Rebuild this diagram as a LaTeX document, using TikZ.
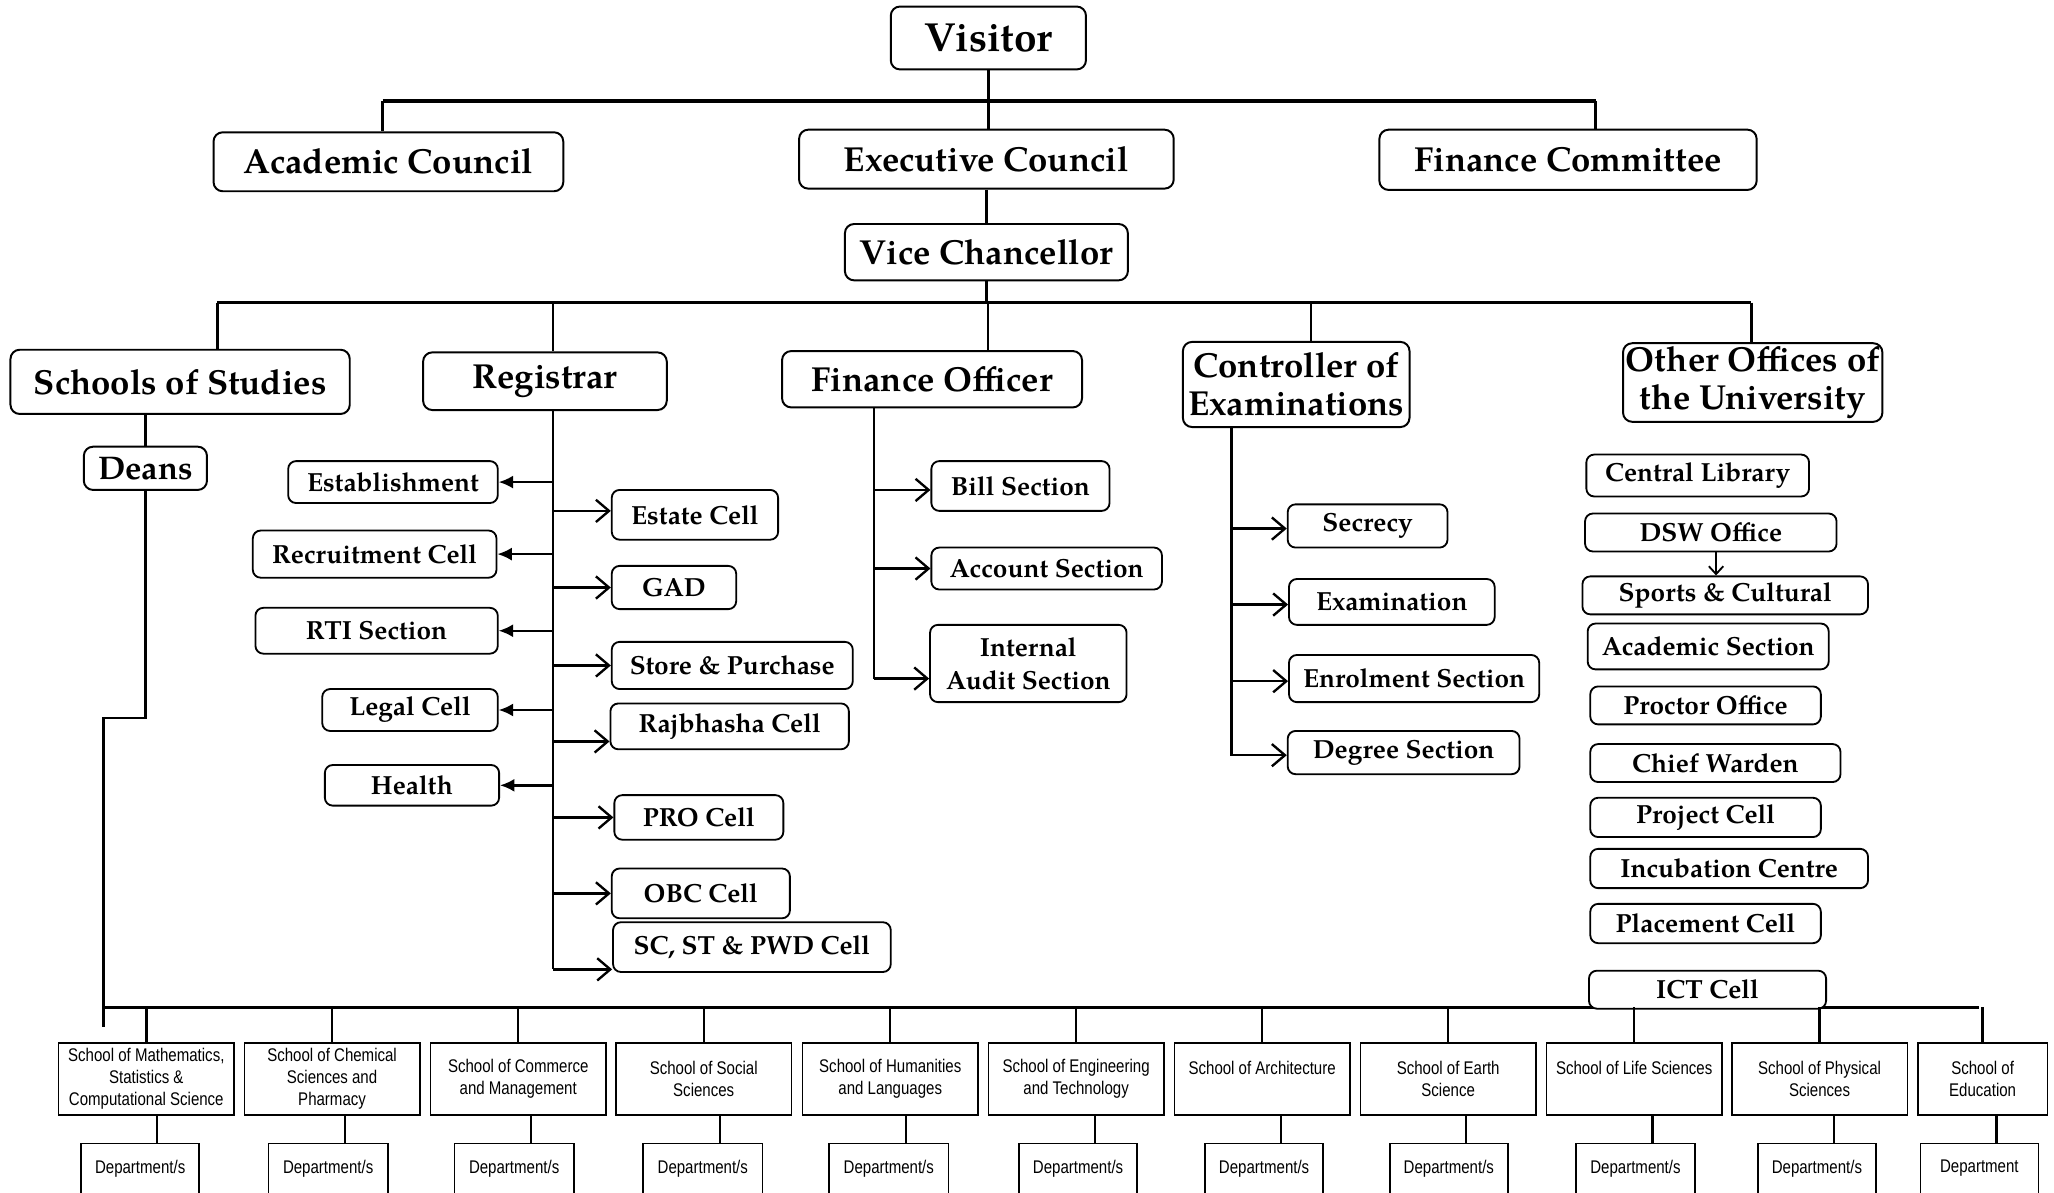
\documentclass[tikz,border=0pt]{standalone}
\usepackage{fontspec}
\newfontfamily\palb{texgyrepagella-bold}[Extension=.otf]
\newfontfamily\narrowsf{Liberation Sans}[FakeStretch=0.82]
\usetikzlibrary{arrows.meta}
\tikzset{
  sz/.style 2 args={minimum width=#1pt, minimum height=#2pt},
  boxA/.style={draw, line width=1.5pt, rounded corners=7pt, inner sep=0pt, align=center,
    font=\palb\fontsize{26.5}{29}\selectfont},
  boxB/.style={draw, line width=1.4pt, rounded corners=6pt, inner sep=0pt, align=center,
    font=\palb\fontsize{20}{25}\selectfont},
  sbox/.style={draw, line width=1.2pt, inner sep=0pt, align=center,
    font=\narrowsf\fontsize{14}{16.5}\selectfont},
  conn/.style={line width=1.8pt},
  bus/.style={line width=2.5pt},
  rarr/.style={line width=1.8pt, -{Straight Barb[length=10pt,width=17pt,line width=1.8pt]}},
  sarr/.style={line width=1.4pt, -{Straight Barb[length=6pt,width=11pt,line width=1.4pt]}},
  larr/.style={line width=1.8pt, -{Latex[length=11pt,width=10pt]}},
}
\begin{document}
\begin{tikzpicture}[x=1pt,y=-1pt]
\useasboundingbox (0,0) rectangle (1568,910);
\fill[white] (0,0) rectangle (1568,910);
\clip (0,0) rectangle (1568,910);

% ---------- top levels ----------
\node[boxA, sz={149}{48}, font=\palb\fontsize{31}{34}\selectfont] (visitor) at (754.5,29) {Visitor};
\node[boxA, sz={267}{45}] (acad) at (296.5,123.5) {Academic Council};
\node[boxA, sz={286}{45}] (exec) at (753,121.5) {Executive Council};
\node[boxA, sz={288}{46}] (fincom) at (1197,122) {Finance Committee};
\node[boxA, sz={216}{43}] (vc) at (753,192.5) {Vice Chancellor};
\node[boxA, sz={259}{49}] (schools) at (137.5,291.5) {Schools of Studies};
\node[boxA, sz={186}{44}] (reg) at (416,291) {Registrar};
\node[boxA, sz={229}{43}] (fo) at (711.5,289.5) {Finance Officer};
\node[boxA, sz={173}{65}] (coe) at (989.5,293.5) {Controller of\\Examinations};
\node[boxA, sz={198}{60}] (other) at (1338,292) {Other Offices of\\the University};
\node[boxA, sz={94}{33}, font=\palb\fontsize{25}{28}\selectfont] (deans) at (111,357.5) {Deans};

% ---------- top connectors ----------
\coordinate (busAL) at (292,77);
\coordinate (busAR) at (1218,77);
\draw[conn] (visitor.south) -- (visitor.south |- exec.north);
\draw[bus] (busAL) -- (busAR);
\draw[conn] (busAL) -- (busAL |- acad.north);
\draw[conn] (busAR) -- (busAR |- fincom.north);
\draw[conn] (exec.south) -- (exec.south |- vc.north);

\coordinate (dSch) at (166,231);
\coordinate (dReg) at (422,231);
\coordinate (dFO) at (754,231);
\coordinate (dCoE) at (1001,231);
\coordinate (dOth) at (1337,231);
\draw[conn] (vc.south) -- (vc.south |- dSch);
\draw[bus] (dSch) -- (dOth);
\draw[conn] (dSch) -- (dSch |- schools.north);
\draw[conn] (dReg) -- (dReg |- reg.north);
\draw[conn] (dFO) -- (dFO |- fo.north);
\draw[conn] (dCoE) -- (dCoE |- coe.north);
\draw[conn] (dOth) -- (dOth |- other.north);
\draw[conn] (deans.north) -- (deans.north |- schools.south);

% ---------- Registrar branch ----------
\node[boxB, sz={160}{32}] (estab) at (300,368) {Establishment};
\node[boxB, sz={186}{36}] (recruit) at (286,423) {Recruitment Cell};
\node[boxB, sz={185}{35}] (rti) at (287.5,481.5) {RTI Section};
\node[boxB, sz={134}{32}] (legal) at (313,542) {Legal Cell};
\node[boxB, sz={133}{31}] (health) at (314.5,599.5) {Health};

\node[boxB, sz={127}{38}] (estate) at (530.5,393) {Estate Cell};
\node[boxB, sz={95}{33}] (gad) at (514.5,448.5) {GAD};
\node[boxB, sz={184}{36}] (store) at (559,508) {Store \& Purchase};
\node[boxB, sz={182}{35}] (rajb) at (557,554.5) {Rajbhasha Cell};
\node[boxB, sz={129}{34}] (pro) at (533.5,624) {PRO Cell};
\node[boxB, sz={136}{38}] (obc) at (535,682) {OBC Cell};
\node[boxB, sz={212}{38}] (scst) at (574,723) {SC, ST \& PWD Cell};

\coordinate (regEnd) at (422,740);
\draw[conn] (regEnd |- reg.south) -- (regEnd);
\foreach \n in {estab,recruit,rti,legal,health}
  \draw[larr] (regEnd |- \n.east) -- (\n.east);
\coordinate (estateIn) at ([yshift=3pt]estate.west);
\coordinate (rajbIn) at ([yshift=-11.5pt]rajb.west);
\coordinate (scstIn) at ([yshift=-17pt]scst.west);
\draw[rarr] (regEnd |- estateIn) -- (estateIn);
\draw[rarr] (regEnd |- gad.west) -- (gad.west);
\draw[rarr] (regEnd |- store.west) -- (store.west);
\draw[rarr] (regEnd |- rajbIn) -- (rajbIn);
\draw[rarr] (regEnd |- pro.west) -- (pro.west);
\draw[rarr] (regEnd |- obc.west) -- (obc.west);
\draw[rarr] (regEnd) -- (scstIn);

% ---------- Finance Officer branch ----------
\node[boxB, sz={136}{38}] (bill) at (779,371) {Bill Section};
\node[boxB, sz={176}{32}] (account) at (799,434) {Account Section};
\node[boxB, sz={150}{59}] (audit) at (785,506.5) {Internal\\Audit Section};
\coordinate (foEnd) at (667,518);
\coordinate (billIn) at ([yshift=-3pt]bill.west);
\coordinate (auditIn) at ([yshift=-11.5pt]audit.west);
\draw[conn] (foEnd |- fo.south) -- (foEnd);
\draw[rarr] (foEnd |- billIn) -- (billIn);
\draw[rarr] (foEnd |- account.west) -- (account.west);
\draw[rarr] (foEnd) -- (auditIn);

% ---------- Controller branch ----------
\node[boxB, sz={122}{33}] (secrecy) at (1044,401.5) {Secrecy};
\node[boxB, sz={157}{35}] (exam) at (1062.5,459.5) {Examination};
\node[boxB, sz={191}{36}] (enrol) at (1079.5,518) {Enrolment Section};
\node[boxB, sz={177}{33}] (degree) at (1071.5,574.5) {Degree Section};
\coordinate (coeEnd) at (940,577);
\draw[conn] (coeEnd |- coe.south) -- (coeEnd);
\foreach \n in {secrecy,exam,enrol,degree}{
  \coordinate (\n In) at ([yshift=-2pt]\n.west);
  \draw[rarr] (coeEnd |- \n In) -- (\n In);
}

% ---------- Other offices ----------
\node[boxB, sz={170}{32}] (lib) at (1296,363) {Central Library};
\node[boxB, sz={192}{29}] (dsw) at (1306,406.5) {DSW Office};
\node[boxB, sz={218}{29}] (sports) at (1317,454.5) {Sports \& Cultural};
\node[boxB, sz={184}{35}] (acadsec) at (1304,493.5) {Academic Section};
\node[boxB, sz={176}{29}] (proctor) at (1302,538.5) {Proctor Office};
\node[boxB, sz={191}{29}] (warden) at (1309.5,582.5) {Chief Warden};
\node[boxB, sz={176}{30}] (project) at (1302,624) {Project Cell};
\node[boxB, sz={212}{30}] (incub) at (1320,663) {Incubation Centre};
\node[boxB, sz={176}{30}] (placement) at (1302,705) {Placement Cell};
\coordinate (dswOut) at ([xshift=4pt]dsw.south);
\draw[sarr] (dswOut) -- (dswOut |- sports.north);

% ---------- Schools ----------
\coordinate (dk1) at (111,548);
\coordinate (dk2) at (79,548);
\coordinate (dk3) at (79,784);
\draw[conn] (deans.south) -- (dk1) -- (dk2) -- (dk3);
\coordinate (busCL) at (79,769);
\coordinate (busCR) at (1511,769);
\draw[bus] (busCL) -- (busCR);

\node[boxB, sz={181}{29}, fill=white] (ict) at (1303.5,755.5) {ICT Cell};

\node[sbox, sz={134}{55}] (s1) at (111.7,823.5) {School of Mathematics,\\Statistics \&\\Computational Science};
\node[sbox, sz={134}{55}] (s2) at (253.5,823.5) {School of Chemical\\Sciences and\\Pharmacy};
\node[sbox, sz={134}{55}] (s3) at (395.6,823.5) {School of Commerce\\and Management};
\node[sbox, sz={134}{55}] (s4) at (537.2,823.5) {School of Social\\Sciences};
\node[sbox, sz={134}{55}] (s5) at (679.6,823.5) {School of Humanities\\and Languages};
\node[sbox, sz={134}{55}] (s6) at (821.5,823.5) {School of Engineering\\and Technology};
\node[sbox, sz={134}{55}] (s7) at (963.5,823.5) {School of Architecture\\\mbox{}};
\node[sbox, sz={134}{55}] (s8) at (1105.5,823.5) {School of Earth\\Science};
\node[sbox, sz={134}{55}] (s9) at (1247.5,823.5) {School of Life Sciences\\\mbox{}};
\node[sbox, sz={134}{55}] (s10) at (1389,823.5) {School of Physical\\Sciences};
\node[sbox, sz={99}{55}] (s11) at (1513.5,823.5) {School of\\Education};

\node[sbox, sz={90}{38}] (d1) at (107,892) {Department/s};
\node[sbox, sz={91}{38}] (d2) at (250.5,892) {Department/s};
\node[sbox, sz={91}{38}] (d3) at (392.5,892) {Department/s};
\node[sbox, sz={91}{38}] (d4) at (536.5,892) {Department/s};
\node[sbox, sz={91}{38}] (d5) at (678.5,892) {Department/s};
\node[sbox, sz={90}{38}] (d6) at (823,892) {Department/s};
\node[sbox, sz={90}{38}] (d7) at (965,892) {Department/s};
\node[sbox, sz={90}{38}] (d8) at (1106,892) {Department/s};
\node[sbox, sz={91}{38}] (d9) at (1248.5,892) {Department/s};
\node[sbox, sz={90}{38}] (d10) at (1387,892) {Department/s};
\node[sbox, sz={90}{38}] (d11) at (1511,892) {Department};

\foreach \i in {1,...,11}{
  \draw[conn] (s\i.north |- busCL) -- (s\i.north);
  \coordinate (dc\i) at ([xshift=13pt]d\i.north);
  \draw[conn] (dc\i |- s\i.south) -- (dc\i);
}
\end{tikzpicture}
\end{document}
